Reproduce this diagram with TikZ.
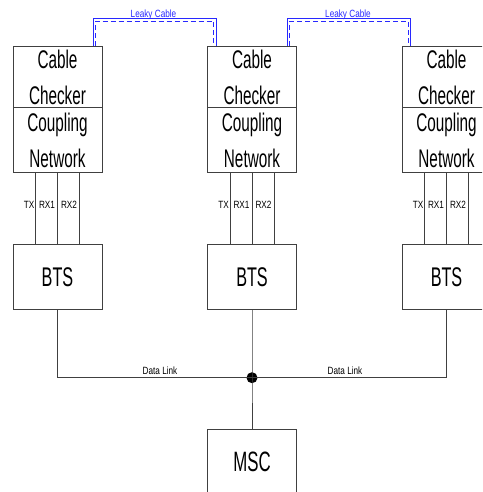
\documentclass[tikz,border=0pt]{standalone}
\usepackage{fontspec}
\newfontfamily\bigf[FakeStretch=0.6]{Liberation Sans}
\newfontfamily\smallf[FakeStretch=0.78]{Liberation Sans}
\usetikzlibrary{calc}
\definecolor{leaky}{RGB}{40,40,255}
\begin{document}
\begin{tikzpicture}[x=1pt,y=-1pt,
  box/.style={draw=black!75,line width=1pt,minimum width=89pt,inner sep=0pt,align=center,
    font=\bigf\fontsize{25.5}{36}\selectfont},
  wire/.style={draw=black!75,line width=1pt},
  lbl/.style={inner sep=0pt,anchor=base,font=\smallf\fontsize{10.5}{12}\selectfont},
  leakys/.style={draw=leaky,line width=1pt},
  leakyd/.style={draw=leaky,line width=1pt,dash pattern=on 5pt off 3pt}]
\useasboundingbox (0,0) rectangle (482,492);
\clip (0,0) rectangle (482,492);
\foreach \i/\cx in {1/57.5,2/252,3/446.5}{
  \node[box,minimum height=61pt] (cc\i) at (\cx,77.2) {Cable\\Checker};
  \node[box,minimum height=64.6pt] (cn\i) at (\cx,140) {Coupling\\Network};
  \node[box,minimum height=65pt,font=\bigf\fontsize{27}{30}\selectfont] (bts\i) at (\cx,276.8) {BTS};
  \foreach \dx in {-22,0,22}{
    \draw[wire] ($(cn\i.south)+(\dx,0)$) -- ($(bts\i.north)+(\dx,0)$);
  }
  \node[lbl] (tx\i) at (\cx-28.5,208) {TX};
  \node[lbl] (rxa\i) at (\cx-10.5,208) {RX1};
  \node[lbl] (rxb\i) at (\cx+11.5,208) {RX2};
}
\node[box,minimum height=65pt,font=\bigf\fontsize{28}{30}\selectfont] (msc) at (252,461.8) {MSC};
\node[circle,fill=black,inner sep=0pt,minimum size=11pt] (j) at (252,377.7) {};
\draw[wire] (bts1.south) |- (j.center) -| (bts3.south);
\draw[wire] (bts2.south) -- (j.center) -- (msc.north);
\node[lbl] (dl1) at (160,374.5) {Data Link};
\node[lbl] (dl2) at (345,374.5) {Data Link};
% leaky cables
\foreach \a/\b/\k in {1/2/1,2/3/2}{
  \coordinate (la\k) at ($(cc\a.north)+(35.5,0)$);
  \coordinate (lb\k) at ($(cc\b.north)+(-36,0)$);
  \draw[leakys] (la\k) -- ++(0,-27.2) -| (lb\k);
  \draw[leakyd] ($(la\k)+(2.2,0)$) -- ++(0,-24.7) -| ($(lb\k)+(-2.2,0)$);
}
\node[lbl,text=leaky] (lk1) at (153.5,17.3) {Leaky Cable};
\node[lbl,text=leaky] (lk2) at (348,17.3) {Leaky Cable};
\end{tikzpicture}
\end{document}
